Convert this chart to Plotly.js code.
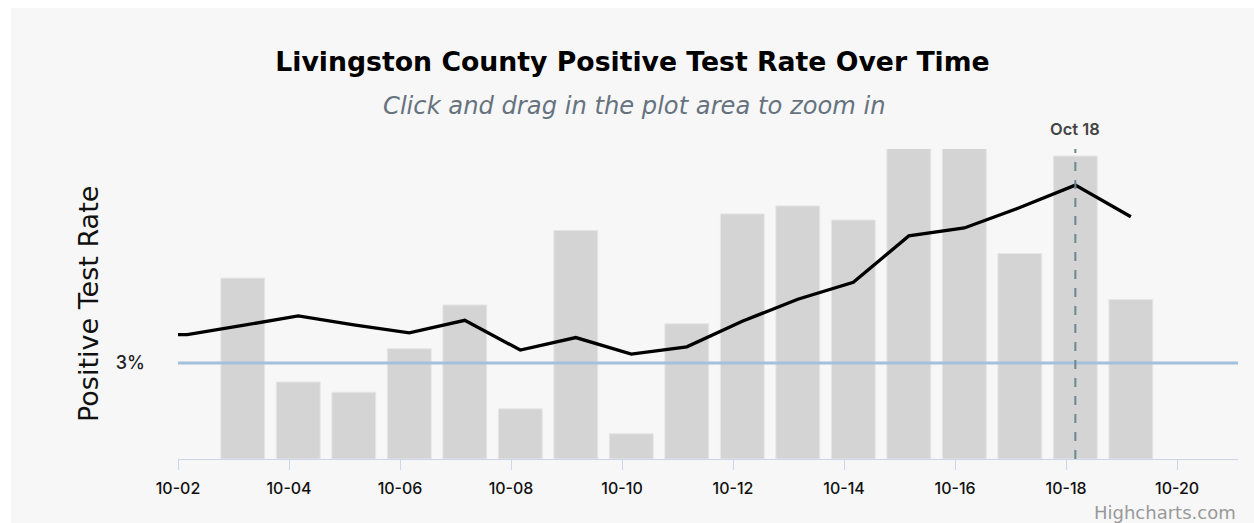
<!DOCTYPE html>
<html>
<head>
<meta charset="utf-8">
<script src="https://cdn.plot.ly/plotly-3.0.1.min.js"></script>
<style>
  html, body { margin: 0; padding: 0; background: #ffffff; }
  #chart { position: absolute; left: 11px; top: 8px; width: 1243px; height: 515px; }
</style>
</head>
<body>
<div id="chart"></div>
<script>
// ---- data ----
const lineDates = ['2020-10-01T04:00','2020-10-02T04:00','2020-10-03T04:00','2020-10-04T04:00','2020-10-05T04:00',
  '2020-10-06T04:00','2020-10-07T04:00','2020-10-08T04:00','2020-10-09T04:00','2020-10-10T04:00','2020-10-11T04:00',
  '2020-10-12T04:00','2020-10-13T04:00','2020-10-14T04:00','2020-10-15T04:00','2020-10-16T04:00','2020-10-17T04:00',
  '2020-10-18T04:00','2020-10-19T04:00'];
const lineValues = [3.89, 3.89, 4.18, 4.48, 4.20, 3.95, 4.34, 3.41, 3.80, 3.28, 3.51, 4.31, 5.00, 5.53, 6.98, 7.23, 7.87, 8.57, 7.58];

const barDates = ['2020-10-03T04:00','2020-10-04T04:00','2020-10-05T04:00','2020-10-06T04:00','2020-10-07T04:00',
  '2020-10-08T04:00','2020-10-09T04:00','2020-10-10T04:00','2020-10-11T04:00','2020-10-12T04:00','2020-10-13T04:00',
  '2020-10-14T04:00','2020-10-15T04:00','2020-10-16T04:00','2020-10-17T04:00','2020-10-18T04:00','2020-10-19T04:00'];
const barValues = [5.66, 2.41, 2.09, 3.45, 4.82, 1.57, 7.15, 0.79, 4.23, 7.67, 7.92, 7.48, 10.2, 10.4, 6.43, 9.48, 4.99];

const xTickVals = ['2020-10-02','2020-10-04','2020-10-06','2020-10-08','2020-10-10','2020-10-12','2020-10-14','2020-10-16','2020-10-18','2020-10-20'];
const xTickLabels = ['10-02','10-04','10-06','10-08','10-10','10-12','10-14','10-16','10-18','10-20'];
const yTickVals = [3];
const yTickLabels = ['3%'];

const thresholdValue = 3;
const markerDate = '2020-10-18T04:00';
const markerLabel = 'Oct 18';
const xRange = ['2020-10-02T00:00', '2020-10-21T02:20'];
const yRange = [0, 9.7];

const FONT = 'Inter, "Open Sans", sans-serif';
const WIDE = '"DejaVu Sans", Inter, sans-serif';

const traces = [
  {
    type: 'bar', x: barDates, y: barValues,
    marker: { color: '#d4d4d4', line: { color: '#e6e6e6', width: 1 } },
    hoverinfo: 'x+y', showlegend: false
  },
  {
    type: 'scatter', mode: 'lines', x: lineDates, y: lineValues,
    line: { color: '#000000', width: 3.3 },
    hoverinfo: 'x+y', showlegend: false
  }
];

const layout = {
  width: 1243, height: 515,
  margin: { l: 167, r: 16, t: 141, b: 64 },
  paper_bgcolor: '#f7f7f7', plot_bgcolor: '#f7f7f7',
  bargap: 0.21,
  font: { family: FONT, color: '#111111' },
  title: {
    text: 'Livingston County Positive Test Rate Over Time',
    font: { family: WIDE, size: 26.7, weight: 'bold', color: '#000000' },
    x: 0.5, xanchor: 'center', xref: 'container',
    y: 1 - 54 / 515, yanchor: 'middle', yref: 'container'
  },
  xaxis: {
    type: 'date', range: xRange,
    tickvals: xTickVals, ticktext: xTickLabels,
    showgrid: false, zeroline: false,
    showline: true, linecolor: '#ccd6eb', linewidth: 1,
    ticks: 'outside', ticklen: 10, tickcolor: '#ccd6eb', tickwidth: 1,
    tickfont: { family: FONT, size: 16, weight: 500, color: '#111111' },
    ticklabelstandoff: 5,
    fixedrange: true
  },
  yaxis: {
    range: yRange,
    tickvals: yTickVals, ticktext: yTickLabels,
    showgrid: false, zeroline: false, showline: false,
    ticks: '', ticklabelstandoff: 32,
    tickfont: { family: FONT, size: 18, weight: 500, color: '#222222' },
    fixedrange: true
  },
  shapes: [
    { type: 'line', xref: 'paper', yref: 'y', x0: 0, x1: 1, y0: thresholdValue, y1: thresholdValue,
      line: { color: '#a3c0dc', width: 3 }, layer: 'above' },
    { type: 'line', xref: 'x', yref: 'paper', x0: markerDate, x1: markerDate, y0: 0, y1: 1,
      line: { color: '#6b8792', width: 2, dash: 'dash' }, layer: 'above' }
  ],
  annotations: [
    { text: 'Click and drag in the plot area to zoom in', xref: 'paper', yref: 'paper',
      x: 0.5 + (634 - (178 + 1238) / 2) / 1060, y: 1 + (141 - 98) / 310, xanchor: 'center', yanchor: 'middle',
      showarrow: false, font: { family: WIDE, size: 24.2, style: 'italic', weight: 'normal', color: '#66737f' } },
    { text: markerLabel, xref: 'x', yref: 'paper', x: markerDate, y: 1, yshift: 20,
      xanchor: 'center', yanchor: 'middle', showarrow: false,
      font: { family: FONT, size: 16.5, weight: 600, color: '#444444' } },
    { text: 'Positive Test Rate', xref: 'paper', yref: 'paper', x: -0.0849, y: 0.5,
      xanchor: 'center', yanchor: 'middle', textangle: -90, showarrow: false,
      font: { family: WIDE, size: 27, weight: 'normal', color: '#111111' } },
    { text: 'Highcharts.com', xref: 'paper', yref: 'paper', x: 1, y: -0.171,
      xanchor: 'right', yanchor: 'middle', showarrow: false,
      font: { family: WIDE, size: 18, color: '#999999' } }
  ],
  hovermode: 'closest'
};

Plotly.newPlot('chart', traces, layout, { displayModeBar: false, responsive: false });
</script>
</body>
</html>
